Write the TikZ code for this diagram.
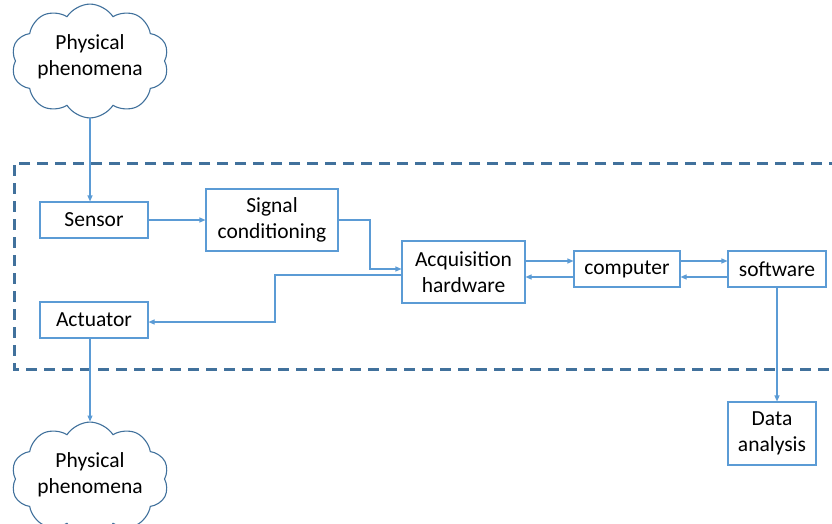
\documentclass[tikz,border=0pt]{standalone}
\usepackage{fontspec}
\setmainfont{Carlito}
\usetikzlibrary{shapes.symbols,arrows.meta}
\definecolor{boxc}{HTML}{5B9BD5}
\definecolor{darkc}{HTML}{41719C}
\newcommand{\cloudtext}{\raisebox{4pt}[\height][\depth]{\begin{tabular}{@{}c@{}}Physical\\phenomena\end{tabular}}}
\begin{document}
\begin{tikzpicture}[x=1pt,y=-1pt,
  every node/.style={font=\fontsize{21.5}{26}\selectfont, align=center},
  blk/.style={draw=boxc, line width=1.1pt, rectangle, inner sep=0pt},
  cld/.style={draw=darkc, line width=1.1pt, cloud, cloud puffs=10, cloud puff arc=115, aspect=1.6, minimum width=152pt, minimum height=96pt, inner sep=0pt},
  conn/.style={draw=boxc, line width=1.1pt, -{Triangle[length=6pt,width=5pt]}},
  frame/.style={draw=darkc, line width=3pt, dash pattern=on 11pt off 7pt}]
\useasboundingbox (0,0) rectangle (832,524);
\draw[frame] (840,163) -- (14,163) -- (14,369) -- (840,369);
\node[cld] (ph1) at (90,61) {\cloudtext};
\node[cld] (ph2) at (90,479) {\cloudtext};
\node[blk, minimum width=108pt, minimum height=36pt] (sen) at (94,220) {Sensor};
\node[blk, minimum width=132pt, minimum height=62pt] (sig) at (272,220) {Signal\\conditioning};
\node[blk, minimum width=123pt, minimum height=62pt] (acq) at (463.5,272) {Acquisition\\hardware};
\node[blk, minimum width=106pt, minimum height=36pt] (com) at (627,269) {computer};
\node[blk, minimum width=98pt, minimum height=36pt] (sw) at (777,269) {software};
\node[blk, minimum width=108pt, minimum height=36pt] (act) at (94,320) {Actuator};
\node[blk, minimum width=88pt, minimum height=63pt] (da) at (772,433.5) {Data\\analysis};
\draw[conn] (ph1.south -| 90,0) -- (sen.north -| 90,0);
\draw[conn] (sen.east) -- (sig.west);
\draw[conn] (sig.east) -- (370,220) -- (370,269) -- (acq.west |- 0,269);
\draw[conn] (acq.west |- 0,275) -- (275,275) -- (275,322) -- (act.east |- 0,322);
\draw[conn] (acq.east |- 0,261) -- (com.west |- 0,261);
\draw[conn] (com.west |- 0,277) -- (acq.east |- 0,277);
\draw[conn] (com.east |- 0,261) -- (sw.west |- 0,261);
\draw[conn] (sw.west |- 0,277) -- (com.east |- 0,277);
\draw[conn] (sw.south -| 777,0) -- (da.north -| 777,0);
\draw[conn] (act.south -| 90,0) -- (ph2.north -| 90,0);
\end{tikzpicture}
\end{document}
